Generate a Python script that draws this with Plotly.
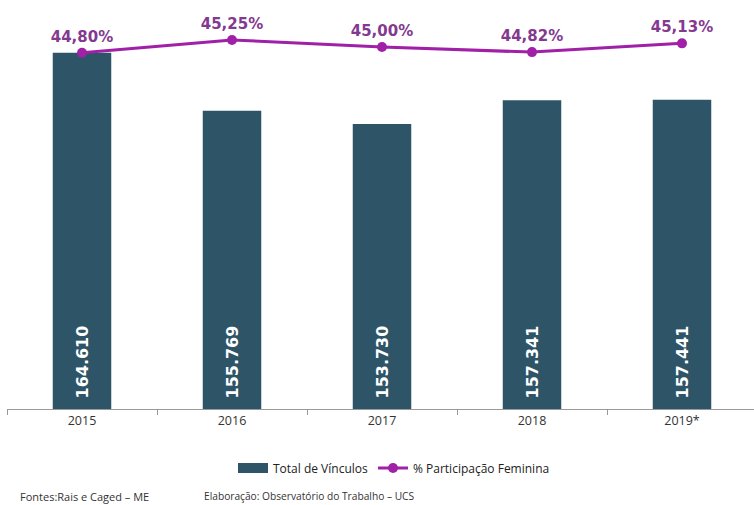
import plotly.graph_objects as go

years = ["2015", "2016", "2017", "2018", "2019*"]
vinculos = [164610, 155769, 153730, 157341, 157441]
vinculos_labels = ["164.610", "155.769", "153.730", "157.341", "157.441"]
participacao = [44.80, 45.25, 45.00, 44.82, 45.13]
participacao_labels = ["44,80%", "45,25%", "45,00%", "44,82%", "45,13%"]

bar_color = "#2E5468"
line_color = "#A020A8"
label_purple = "#83398F"

Y_MIN, Y_MAX = 110240, 172650

fig = go.Figure()
fig.add_trace(go.Bar(
    x=years, y=vinculos, name="Total de Vínculos",
    marker=dict(color=bar_color, line=dict(width=0)),
    width=0.39, showlegend=False,
))
# legend swatch for bars (wide rectangle, as in the reference)
fig.add_trace(go.Scatter(
    x=[None], y=[None], mode="lines", name="Total de Vínculos",
    line=dict(color=bar_color, width=10),
))
fig.add_trace(go.Scatter(
    x=years, y=participacao, name="% Participação Feminina",
    mode="lines+markers+text", yaxis="y2",
    line=dict(color=line_color, width=3),
    marker=dict(color=line_color, size=10),
    text=["<b>" + t + "</b>" for t in participacao_labels],
    textposition="top center",
    textfont=dict(family="DejaVu Sans", size=15, color=label_purple),
    cliponaxis=False,
))

annotations = []
for i, lab in enumerate(vinculos_labels):
    annotations.append(dict(
        x=i, y=Y_MIN, xref="x", yref="y", text="<b>" + lab + "</b>",
        textangle=-90, showarrow=False, yanchor="bottom", xanchor="center", yshift=8,
        font=dict(family="DejaVu Sans", size=16, color="white"),
    ))

plot_w = 754 - 7
plot_h = 505 - 96
annotations.append(dict(text="Fontes:Rais e Caged – ME", x=(18 - 7) / plot_w, xref="paper",
                        xanchor="left", y=(409 - 496) / plot_h, yref="paper", yanchor="middle",
                        showarrow=False, font=dict(family="Open Sans", size=11, color="#333")))
annotations.append(dict(text="Elaboração: Observatório do Trabalho – UCS", x=(202 - 7) / plot_w,
                        xref="paper", xanchor="left", y=(409 - 496) / plot_h, yref="paper",
                        yanchor="middle", showarrow=False,
                        font=dict(family="Open Sans", size=10.2, color="#333")))

fig.update_layout(
    width=754, height=505,
    margin=dict(l=7, r=0, t=0, b=96),
    paper_bgcolor="white", plot_bgcolor="white",
    showlegend=True,
    legend=dict(orientation="h", x=(394 - 7) / plot_w, xanchor="center",
                y=(409 - 468) / plot_h, yanchor="middle",
                font=dict(family="Open Sans", size=12, color="#222"),
                traceorder="normal"),
    xaxis=dict(range=[-0.5, 4.48], showgrid=False, showline=True, linecolor="#999", linewidth=1,
               ticks="outside", tickson="boundaries", ticklen=5, tickcolor="#999",
               tickfont=dict(family="Open Sans", size=12.5, color="#333")),
    yaxis=dict(range=[Y_MIN, Y_MAX], visible=False, showgrid=False),
    yaxis2=dict(range=[32.165, 46.668], overlaying="y", side="right", visible=False, showgrid=False),
    annotations=annotations,
)

fig.write_html("out.html")
